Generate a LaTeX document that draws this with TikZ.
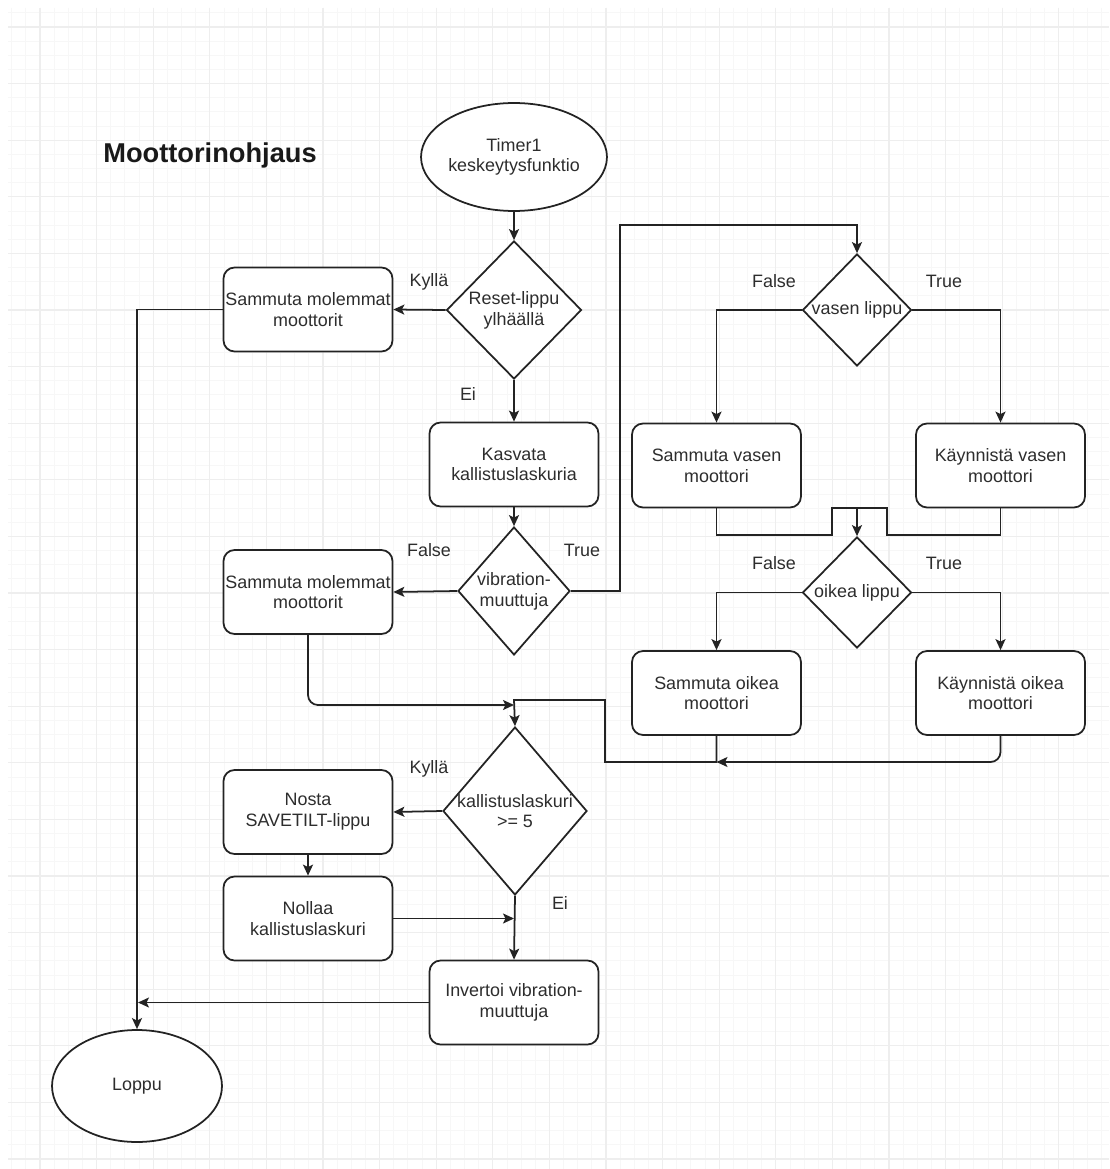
\documentclass[tikz,border=0pt]{standalone}
\usepackage{fontspec}
\setmainfont{Liberation Sans}
\usetikzlibrary{shapes.geometric,arrows.meta}
\definecolor{lc}{RGB}{35,35,35}
\definecolor{tc}{RGB}{45,45,45}
\definecolor{gminor}{RGB}{247,247,247}
\definecolor{gmajor}{RGB}{238,238,238}
\newcommand{\fs}{\fontsize{10.2}{11.8}\selectfont}
\tikzset{
  box/.style={draw=lc, line width=1pt, rounded corners=0.22cm, minimum width=3.38cm, minimum height=1.68cm, align=center, text=tc, font=\fs, inner sep=1pt, fill=white},
  term/.style={draw=lc, line width=1pt, ellipse, align=center, text=tc, font=\fs, inner sep=0pt, fill=white},
  dia/.style={draw=lc, line width=1pt, diamond, inner sep=0pt, fill=white},
  dtext/.style={align=center, text=tc, font=\fs, inner sep=0pt},
  lbl/.style={text=tc, font=\fs, inner sep=0pt},
  conn/.style={draw=lc, line width=1pt, -{Stealth[length=2.2mm,width=2mm,inset=0.5mm]}},
  plain/.style={draw=lc, line width=1pt},
}
\begin{document}
\begin{tikzpicture}[x=0.02cm,y=-0.02cm]
\useasboundingbox (0,0) rectangle (1109,1169);
\fill[white] (0,0) rectangle (1109,1169);
% grid
\foreach \i in {0,...,77} { \draw[gminor, line width=0.5pt] ({11.7+14.15*\i},8) -- ({11.7+14.15*\i},1169); }
\foreach \i in {0,...,81} { \draw[gminor, line width=0.5pt] (8,{12.85+14.15*\i}) -- (1109,{12.85+14.15*\i}); }
\foreach \i in {0,...,18} { \draw[gmajor, line width=0.6pt] ({40+56.6*\i},8) -- ({40+56.6*\i},1169); }
\foreach \i in {0,...,20} { \draw[gmajor, line width=0.6pt] (8,{27+56.6*\i}) -- (1109,{27+56.6*\i}); }

% title
\node[font=\fontsize{15.5}{18}\selectfont\bfseries, text=black!90, inner sep=0pt] (title) at (210,155) {Moottorinohjaus};

% nodes
\node[term, minimum width=3.44cm, minimum height=2.16cm] (start) at (514,157) {Timer1\\keskeytysfunktio};
\node[dia, minimum width=2.7cm, minimum height=2.76cm] (d1) at (514,310) {};
\node[dtext] (d1t) at (514,310) {Reset-lippu\\ylhäällä};
\node[box] (boxA) at (308,309.5) {Sammuta molemmat\\moottorit};
\node[box] (boxB) at (514,464.5) {Kasvata\\kallistuslaskuria};
\node[dia, minimum width=2.24cm, minimum height=2.56cm] (d2) at (514,591) {};
\node[dtext] (d2t) at (514,591) {vibration-\\muuttuja};
\node[box] (boxC) at (308,592) {Sammuta molemmat\\moottorit};
\node[dia, minimum width=2.18cm, minimum height=2.24cm] (d3) at (857,310) {};
\node[dtext] (d3t) at (857,310) {vasen lippu};
\node[box] (boxD) at (716.5,465.5) {Sammuta vasen\\moottori};
\node[box] (boxE) at (1000.5,465.5) {Käynnistä vasen\\moottori};
\node[dia, minimum width=2.18cm, minimum height=2.22cm] (d4) at (857,592.5) {};
\node[dtext] (d4t) at (857,592.5) {oikea lippu};
\node[box] (boxF) at (716.5,693) {Sammuta oikea\\moottori};
\node[box] (boxG) at (1000.5,693) {Käynnistä oikea\\moottori};
\node[dia, minimum width=2.88cm, minimum height=3.36cm] (d5) at (515,811) {};
\node[dtext] (d5t) at (515,811) {kallistuslaskuri\\>= 5};
\node[box] (boxH) at (308,812) {Nosta\\SAVETILT-lippu};
\node[box] (boxI) at (308,918.5) {Nollaa\\kallistuslaskuri};
\node[box] (boxJ) at (514,1002.5) {Invertoi vibration-\\muuttuja};
\node[term, minimum width=3.4cm, minimum height=2.24cm] (loppu) at (137,1086) {Loppu};

% labels
\node[lbl] (l1) at (429,282) {Kyllä};
\node[lbl] (l2) at (468,394) {Ei};
\node[lbl] (l3) at (429,550) {False};
\node[lbl] (l4) at (582,550) {True};
\node[lbl] (l5) at (774,281) {False};
\node[lbl] (l6) at (944,281) {True};
\node[lbl] (l7) at (774,563) {False};
\node[lbl] (l8) at (944,563) {True};
\node[lbl] (l9) at (429,769) {Kyllä};
\node[lbl] (l10) at (560,903) {Ei};

% helper coordinates
\coordinate (k1) at (620,225);
\coordinate (m1) at (857,508);
\coordinate (m2) at (716.5,762);
\coordinate (m3) at (514,700);
\coordinate (m4) at (514,705);
\coordinate (m5) at (514,918.5);
\coordinate (m6) at (138,1002.5);
\coordinate (j1) at (832,535);
\coordinate (j2) at (887,535);
\coordinate (j3) at (605,762);

% connectors
\draw[conn] (start.south) -- (d1.north);
\draw[conn] (d1.west) -- (boxA.east);
\draw[conn] (d1.south) -- (boxB.north);
\draw[conn] (boxB.south) -- (d2.north);
\draw[conn] (d2.west) -- (boxC.east);
\draw[conn] (d2.east) -| (k1) -| (d3.north);
\draw[conn] (d3.west) -| (boxD.north);
\draw[conn] (d3.east) -| (boxE.north);
\draw[plain] (boxD.south) |- (j1) |- (m1);
\draw[plain] (boxE.south) |- (j2) |- (m1);
\draw[conn] (m1) -- (d4.north);
\draw[conn] (d4.west) -| (boxF.north);
\draw[conn] (d4.east) -| (boxG.north);
\draw[conn, rounded corners=0.2cm] (boxG.south) |- (m2);
\draw[conn] (boxF.south) |- (j3) |- (m3) -- (d5.north);
\draw[conn, rounded corners=0.2cm] (boxC.south) |- (m4);
\draw[conn] (d5.west) -- (boxH.east);
\draw[conn] (boxH.south) -- (boxI.north);
\draw[conn] (boxI.east) -- (m5);
\draw[conn] (d5.south) -- (boxJ.north);
\draw[conn] (boxJ.west) -- (m6);
\draw[conn] (boxA.west) -| (loppu.north);
\end{tikzpicture}
\end{document}
